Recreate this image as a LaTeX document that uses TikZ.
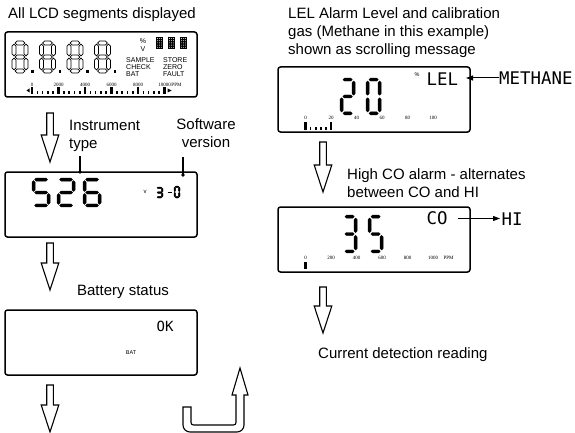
\documentclass[tikz,border=0pt]{standalone}
\usepackage{fontspec}
\setmainfont{Liberation Sans}
\newfontfamily\lcdfont{DejaVu Sans Mono}
\newfontfamily\ticknumfont{Liberation Serif}
\usetikzlibrary{positioning,calc,arrows.meta}

% one LCD segment: style, fixed coordinate, start, end
\newcommand{\lcdhseg}[4]{\path[#1] (#3,#2) -- (#3+\lcdt,#2-\lcdt) -- (#4-\lcdt,#2-\lcdt) -- (#4,#2)
    -- (#4-\lcdt,#2+\lcdt) -- (#3+\lcdt,#2+\lcdt) -- cycle;}
\newcommand{\lcdvseg}[4]{\path[#1] (#2,#3) -- (#2+\lcdt,#3+\lcdt) -- (#2+\lcdt,#4-\lcdt) -- (#2,#4)
    -- (#2-\lcdt,#4-\lcdt) -- (#2-\lcdt,#3+\lcdt) -- cycle;}
\newcommand{\lcdsega}[1]{\lcdhseg{#1}{0}{\lcdg}{\lcdw-\lcdg}}
\newcommand{\lcdsegb}[1]{\lcdvseg{#1}{\lcdw}{\lcdg}{\lcdh/2-\lcdg}}
\newcommand{\lcdsegc}[1]{\lcdvseg{#1}{\lcdw}{\lcdh/2+\lcdg}{\lcdh-\lcdg}}
\newcommand{\lcdsegd}[1]{\lcdhseg{#1}{\lcdh}{\lcdg}{\lcdw-\lcdg}}
\newcommand{\lcdsege}[1]{\lcdvseg{#1}{0}{\lcdh/2+\lcdg}{\lcdh-\lcdg}}
\newcommand{\lcdsegf}[1]{\lcdvseg{#1}{0}{\lcdg}{\lcdh/2-\lcdg}}
\newcommand{\lcdsegg}[1]{\lcdhseg{#1}{\lcdh/2}{\lcdg}{\lcdw-\lcdg}}
% \lcddigit[style]{x}{y}{width}{height}{half thickness}{segments}
\newcommand{\lcddigit}[7][digitseg]{%
  \begin{scope}[shift={(#2,#3)}]
    \def\lcdw{#4}\def\lcdh{#5}\def\lcdt{#6}
    \pgfmathsetmacro{\lcdg}{#5/26}
    \foreach \segname in {#7}{\csname lcdseg\segname\endcsname{#1}}
  \end{scope}}
% hollow block arrow pointing down: x, top, tip
\newcommand{\hollowdown}[3]{%
  \draw[blockarrow] (#1-3.3,#2) -- (#1-3.3,#3-27) -- (#1-8.8,#3-27) -- (#1,#3)
    -- (#1+8.8,#3-27) -- (#1+3.3,#3-27) -- (#1+3.3,#2) -- cycle;}

\begin{document}
\begin{tikzpicture}[
    x=1pt, y=-1pt,
    node distance=75pt,
    lcdbox/.style={draw, line width=1.5pt, rounded corners=2.5pt, minimum width=192pt, minimum height=65pt, inner sep=0pt, outer sep=0pt},
    testseg/.style={draw=black, fill=white, line width=0.8pt},
    digitseg/.style={draw=black, fill=black, line width=0.3pt},
    smallseg/.style={draw=black, fill=black, line width=0.4pt},
    notetext/.style={font=\fontsize{15}{18}\selectfont, inner sep=0pt},
    lcdword/.style={font=\lcdfont\fontsize{17.4}{18}\selectfont, inner sep=0pt},
    tinylabel/.style={font=\fontsize{7}{7}\selectfont, inner sep=0pt},
    ticknum/.style={font=\ticknumfont\fontsize{5}{5}\selectfont, inner sep=0pt},
    blockarrow/.style={line width=1.1pt},
    leaderline/.style={draw=black, line width=1.2pt},
    pointer/.style={line width=1pt, -{Triangle[length=7pt,width=5pt]}}
]
    \useasboundingbox (0,0) rectangle (575,433);

    % Displays
    \node[lcdbox] (disp1) at (101,64.5) {};
    \node[lcdbox, below=of disp1] (disp2) {};
    \node[lcdbox, below=73pt of disp2] (disp3) {};
    \node[lcdbox] (disp4) at (374,99.5) {};
    \node[lcdbox, below=of disp4] (disp5) {};

    % All segments test
    \begin{scope}[shift={(disp1.north west)}]
        \foreach \x in {9,36.5,64,91.5}{
            \lcddigit[testseg]{\x}{11}{12}{28}{2}{a,b,c,d,e,f,g}
            \fill (\x+17,38.5) rectangle ++(2.5,2.5);
        }
        \node[tinylabel] (pct1) at (138,9) {\%};
        \node[tinylabel] (volt1) at (138,17) {V};
        \foreach \x in {151,163,175}{
            \fill (\x,5) rectangle (\x+7,17);
            \foreach \cx in {1.6,3.5,5.4}
                \foreach \cy in {1.5,3.7,5.9,8.1,10.3}
                    \fill[white] (\x+\cx,5+\cy) circle (0.45);
        }
        \node[tinylabel, anchor=west] (sample) at (121,28) {SAMPLE};
        \node[tinylabel, anchor=west] (check) at (121,35) {CHECK};
        \node[tinylabel, anchor=west] (bat1) at (121,42) {BAT};
        \node[tinylabel, anchor=west] (store) at (158,28) {STORE};
        \node[tinylabel, anchor=west] (zero) at (158,35) {ZERO};
        \node[tinylabel, anchor=west] (fault) at (158,42) {FAULT};
        \foreach \x/\t in {27/0,53.5/2000,80/4000,106.5/6000,133/8000,159.5/10000}
            \node[ticknum] (s1n\t) at (\x,52.5) {\t};
        \node[ticknum] (s1ppm) at (171.5,52.5) {PPM};
        \foreach \x in {27,53.5,80,106.5,133,159.5}
            \fill (\x-1.1,55) rectangle (\x+1.1,62);
        \foreach \x in {27,53.5,80,106.5,133}
            \foreach \m in {1,2,3,4}
                \fill (\x+5.3*\m-0.8,59) rectangle (\x+5.3*\m+0.8,62);
        \fill (21.5,58.5) -- (24.5,56.5) -- (24.5,60.5) -- cycle;
        \fill (166.5,58.5) -- (162.5,56.5) -- (162.5,60.5) -- cycle;
    \end{scope}

    % Instrument type and software version
    \begin{scope}[shift={(disp2.north west)}]
        \lcddigit{28.6}{7.6}{15}{25.8}{1.5}{a,f,g,c,d}
        \lcddigit{53.6}{7.6}{15}{25.8}{1.5}{a,b,g,e,d}
        \lcddigit{79.6}{7.6}{15}{25.8}{1.5}{a,f,g,e,d,c}
        \node[tinylabel, font=\fontsize{6}{6}\selectfont] (volt2) at (140,20) {v};
        \lcddigit[smallseg]{151.8}{15.8}{5.4}{9.4}{0.8}{a,b,g,c,d}
        \draw[line width=1.3pt] (162.5,20.5) -- (166.5,20.5);
        \lcddigit[smallseg]{169.8}{14.8}{4.4}{10.4}{0.8}{a,b,c,d,e,f}
    \end{scope}
    \node[notetext, align=left, anchor=north west] (insttype) at (69,120) {Instrument\\type};
    \coordinate (insttop) at (80,156);
    \coordinate (instpt) at (80,172);
    \draw[leaderline] (insttop) -- (instpt);
    \fill (instpt) circle (1.8);
    \node[notetext, align=center, anchor=north] (softver) at (206,118) {Software\\version};
    \coordinate (softtop) at (183,157);
    \coordinate (softpt) at (183,175);
    \draw[leaderline] (softtop) -- (softpt);
    \fill (softpt) circle (1.8);

    % Battery
    \begin{scope}[shift={(disp3.north west)}]
        \node[lcdword, font=\lcdfont\fontsize{14}{14}\selectfont, anchor=west] (okword) at (151.5,16) {OK};
        \node[tinylabel, font=\fontsize{5.5}{5.5}\selectfont] (bat3) at (126,43) {BAT};
    \end{scope}

    % LEL alarm level
    \begin{scope}[shift={(disp4.north west)}]
        \lcddigit{63.6}{12.6}{12}{33.8}{1.5}{a,b,g,e,d}
        \lcddigit{89.6}{12.6}{12}{33.8}{1.5}{a,b,c,d,e,f}
        \node[tinylabel, font=\fontsize{5.5}{5.5}\selectfont] (pct4) at (139,8) {\%};
        \node[lcdword, anchor=west] (lelword) at (148.5,12.5) {LEL};
        \foreach \x/\t in {27.5/0,53/20,78.5/40,104/60,129.5/80,155/100}
            \node[ticknum] (s4n\t) at (\x,51) {\t};
        \foreach \x in {27.5,53}
            \fill (\x-1.1,55) rectangle (\x+1.1,63);
        \foreach \m in {1,2,3,4}
            \fill (27.5+5.1*\m-0.8,60) rectangle (27.5+5.1*\m+0.8,63);
        \coordinate (lelpt) at (188,11);
    \end{scope}
    \node[lcdword, anchor=west] (methane) at (499,78) {METHANE};
    \draw[pointer] (methane.west) -- (lelpt |- methane.west);

    % High CO alarm
    \begin{scope}[shift={(disp5.north west)}]
        \lcddigit{65.6}{9.6}{12}{34.8}{1.5}{a,b,g,c,d}
        \lcddigit{91.6}{9.6}{12}{34.8}{1.5}{a,f,g,c,d}
        \node[lcdword, anchor=west] (coword) at (148.5,11.5) {CO};
        \foreach \x/\t in {27.5/0,53/200,78.5/400,104/600,129.5/800,155/1000}
            \node[ticknum] (s5n\t) at (\x,51) {\t};
        \node[ticknum] (s5ppm) at (170.5,51) {PPM};
        \fill (26.4,55) rectangle (28.6,62);
        \coordinate (copt) at (180,11.5);
    \end{scope}
    \node[lcdword, anchor=west] (hiword) at (501.5,219) {HI};
    \draw[pointer, shorten >=1.5pt] (copt) -- (copt -| hiword.west);

    % Notes
    \node[notetext, anchor=base west] (allseg) at (8,19) {All LCD segments displayed};
    \node[notetext, align=left, anchor=north west] (lelnote) at (288,7.5) {LEL Alarm Level and calibration\\gas (Methane in this example)\\shown as scrolling message};
    \node[notetext, align=left, anchor=north west] (conote) at (347,168.5) {High CO alarm - alternates\\between CO and HI};
    \node[notetext, anchor=base] (batnote) at (123,295.5) {Battery status};
    \node[notetext, anchor=base west] (currnote) at (318,358.5) {Current detection reading};

    % Sequence arrows
    \hollowdown{50}{113}{162}
    \hollowdown{50}{243}{290}
    \hollowdown{50}{385}{432}
    \hollowdown{323}{142}{192}
    \hollowdown{323}{287}{333}
    % back to the start
    \draw[blockarrow] (183,407) -- (183,425) .. controls (183,428.87) and (186.13,432) .. (190,432)
        -- (237,432) .. controls (240.87,432) and (244,428.87) .. (244,425)
        -- (244,395) -- (248,395) -- (240,368) -- (232,395) -- (236,395)
        -- (236,422.5) .. controls (236,423.9) and (234.9,425) .. (233.5,425)
        -- (193.5,425) .. controls (192.1,425) and (191,423.9) .. (191,422.5)
        -- (191,407) -- cycle;
\end{tikzpicture}
\end{document}
